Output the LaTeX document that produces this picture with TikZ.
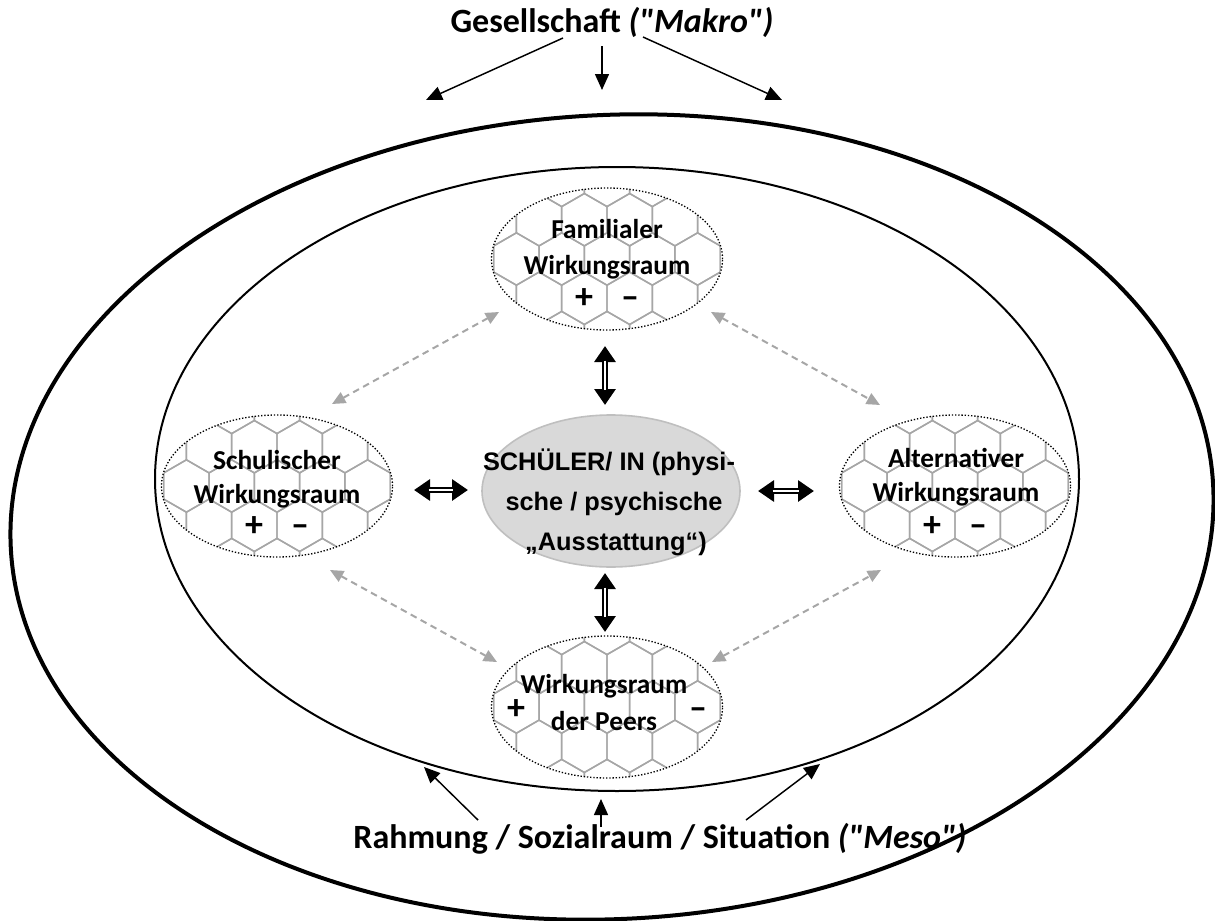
\documentclass[tikz,border=0pt]{standalone}
\usepackage{fontspec}
\setmainfont{Carlito}
\newfontfamily\arialfont{Liberation Sans}
\usetikzlibrary{arrows.meta,shapes.geometric}
\definecolor{hexgray}{HTML}{A6A6A6}
\definecolor{dashgray}{HTML}{A6A6A6}
\definecolor{ctrfill}{HTML}{D9D9D9}
\definecolor{ctrdraw}{HTML}{BFBFBF}
\newcommand\honeycomb[2]{%
  \begin{scope}
    \clip (#1,#2) ellipse [x radius=115, y radius=71];
    \foreach \r in {-2,...,2}{%
      \foreach \k in {-3,...,3}{%
        \pgfmathsetmacro\hx{#1+\k*45.3+mod(abs(\r),2)*22.65}%
        \pgfmathsetmacro\hy{#2+\r*39.3}%
        \draw[hexline] (\hx,\hy) +(30:26.15) -- +(90:26.15) -- +(150:26.15) -- +(210:26.15) -- +(270:26.15) -- +(330:26.15) -- cycle;
      }}
  \end{scope}}
\begin{document}
\begin{tikzpicture}[x=0.75pt,y=-0.75pt,
  hexline/.style={draw=hexgray,line width=1.1pt},
  wr/.style={ellipse,draw,line width=1pt,dash pattern=on 1pt off 1.4pt,minimum width=173.25pt,minimum height=106.5pt,inner sep=0pt},
  wrtext/.style={inner sep=0pt,anchor=base,font=\fontsize{20.5}{22}\selectfont\bfseries},
  pm/.style={inner sep=0pt,anchor=base,font=\fontsize{27}{28}\selectfont\bfseries},
  ctrtext/.style={inner sep=0pt,anchor=base,font=\arialfont\bfseries\fontsize{19}{22}\selectfont},
  bigtext/.style={inner sep=0pt,anchor=base,font=\fontsize{25.5}{28}\selectfont\bfseries},
  blkarrow/.style={draw,line width=1.1pt,-{Triangle[length=12pt,width=10.5pt]}},
  grayarrow/.style={draw=dashgray,line width=1.5pt,dash pattern=on 5pt off 3.5pt,{Triangle[length=10pt,width=9pt]}-{Triangle[length=10pt,width=9pt]}},
  dblout/.style={draw,line width=5pt,{Triangle[length=12pt,width=15.5pt]}-{Triangle[length=12pt,width=15.5pt]}},
  dblin/.style={draw=white,line width=1.5pt,shorten <=11pt,shorten >=11pt}
]
\useasboundingbox (0,0) rectangle (1215,921);

% outer and inner ellipses
\node[ellipse,draw,line width=3pt,minimum width=903pt,minimum height=603pt,inner sep=0pt,rotate=3] (outer) at (612,517) {};
\node[ellipse,draw,line width=1.5pt,minimum width=693pt,minimum height=468pt,inner sep=0pt] (inner) at (617,479) {};

% honeycombs
\honeycomb{607}{259}
\honeycomb{277}{486}
\honeycomb{955}{486}
\honeycomb{607}{707}

\node[wr] (fam) at (607,259) {};
\node[wr] (sch) at (277,486) {};
\node[wr] (alt) at (955,486) {};
\node[wr] (peer) at (607,707) {};

% texts of the fields
\node[wrtext] (famt1) at (607,238) {Familialer};
\node[wrtext] (famt2) at (607,274) {Wirkungsraum};
\node[pm] (famp) at (584,308) {+};
\node[pm] (famm) at (630,308) {\textendash};

\node[wrtext] (scht1) at (277,469) {Schulischer};
\node[wrtext] (scht2) at (277,503) {Wirkungsraum};
\node[pm] (schp) at (254,536) {+};
\node[pm] (schm) at (300,536) {\textendash};

\node[wrtext] (altt1) at (956,467) {Alternativer};
\node[wrtext] (altt2) at (956,501) {Wirkungsraum};
\node[pm] (altp) at (932,536) {+};
\node[pm] (altm) at (978,536) {\textendash};

\node[wrtext] (peert1) at (604,693) {Wirkungsraum};
\node[wrtext] (peert2) at (604,730) {der Peers};
\node[pm] (peerp) at (516,719) {+};
\node[pm] (peerm) at (698,719) {\textendash};

% centre
\node[ellipse,draw=ctrdraw,fill=ctrfill,line width=1.2pt,minimum width=193.5pt,minimum height=114pt,inner sep=0pt] (ctr) at (611,491) {};
\node[ctrtext] (ctr1) at (609,470) {SCHÜLER/ IN (physi-};
\node[ctrtext] (ctr2) at (614,510) {sche / psychische};
\node[ctrtext] (ctr3) at (616,550) {„Ausstattung“)};

% top and bottom labels
\node[bigtext] (makro) at (612,32) {Gesellschaft \textit{(\textquotedbl Makro\textquotedbl)}};
\node[bigtext] (meso) at (660,848) {Rahmung / Sozialraum / Situation \textit{(\textquotedbl Meso\textquotedbl)}};

% coordinates
\coordinate (m1s) at (563,38);  \coordinate (m1e) at (426,100);
\coordinate (m2s) at (602,46);  \coordinate (m2e) at (602,90);
\coordinate (m3s) at (643,37);  \coordinate (m3e) at (782,100);
\coordinate (b1s) at (478,820); \coordinate (b1e) at (424,767);
\coordinate (b2s) at (601,827); \coordinate (b2e) at (601,799);
\coordinate (b3s) at (746,820); \coordinate (b3e) at (820,764);

\draw[blkarrow] (m1s) -- (m1e);
\draw[blkarrow] (m2s) -- (m2e);
\draw[blkarrow] (m3s) -- (m3e);
\draw[blkarrow] (b1s) -- (b1e);
\draw[blkarrow] (b2s) -- (b2e);
\draw[blkarrow] (b3s) -- (b3e);

% dashed grey double arrows
\coordinate (g1a) at (332,404); \coordinate (g1b) at (499,312);
\coordinate (g2a) at (711,312); \coordinate (g2b) at (880,405);
\coordinate (g3a) at (330,570); \coordinate (g3b) at (497,662);
\coordinate (g4a) at (712,662); \coordinate (g4b) at (881,570);
\draw[grayarrow] (g1a) -- (g1b);
\draw[grayarrow] (g2a) -- (g2b);
\draw[grayarrow] (g3a) -- (g3b);
\draw[grayarrow] (g4a) -- (g4b);

% black double arrows
\coordinate (d1a) at (605,346); \coordinate (d1b) at (605,405);
\coordinate (d2a) at (605,573); \coordinate (d2b) at (605,632);
\coordinate (d3a) at (414,490); \coordinate (d3b) at (468,490);
\coordinate (d4a) at (758,491); \coordinate (d4b) at (814,491);
\foreach \p in {1,2,3,4}{
  \draw[dblout] (d\p a) -- (d\p b);
  \draw[dblin] (d\p a) -- (d\p b);
}
\end{tikzpicture}
\end{document}
